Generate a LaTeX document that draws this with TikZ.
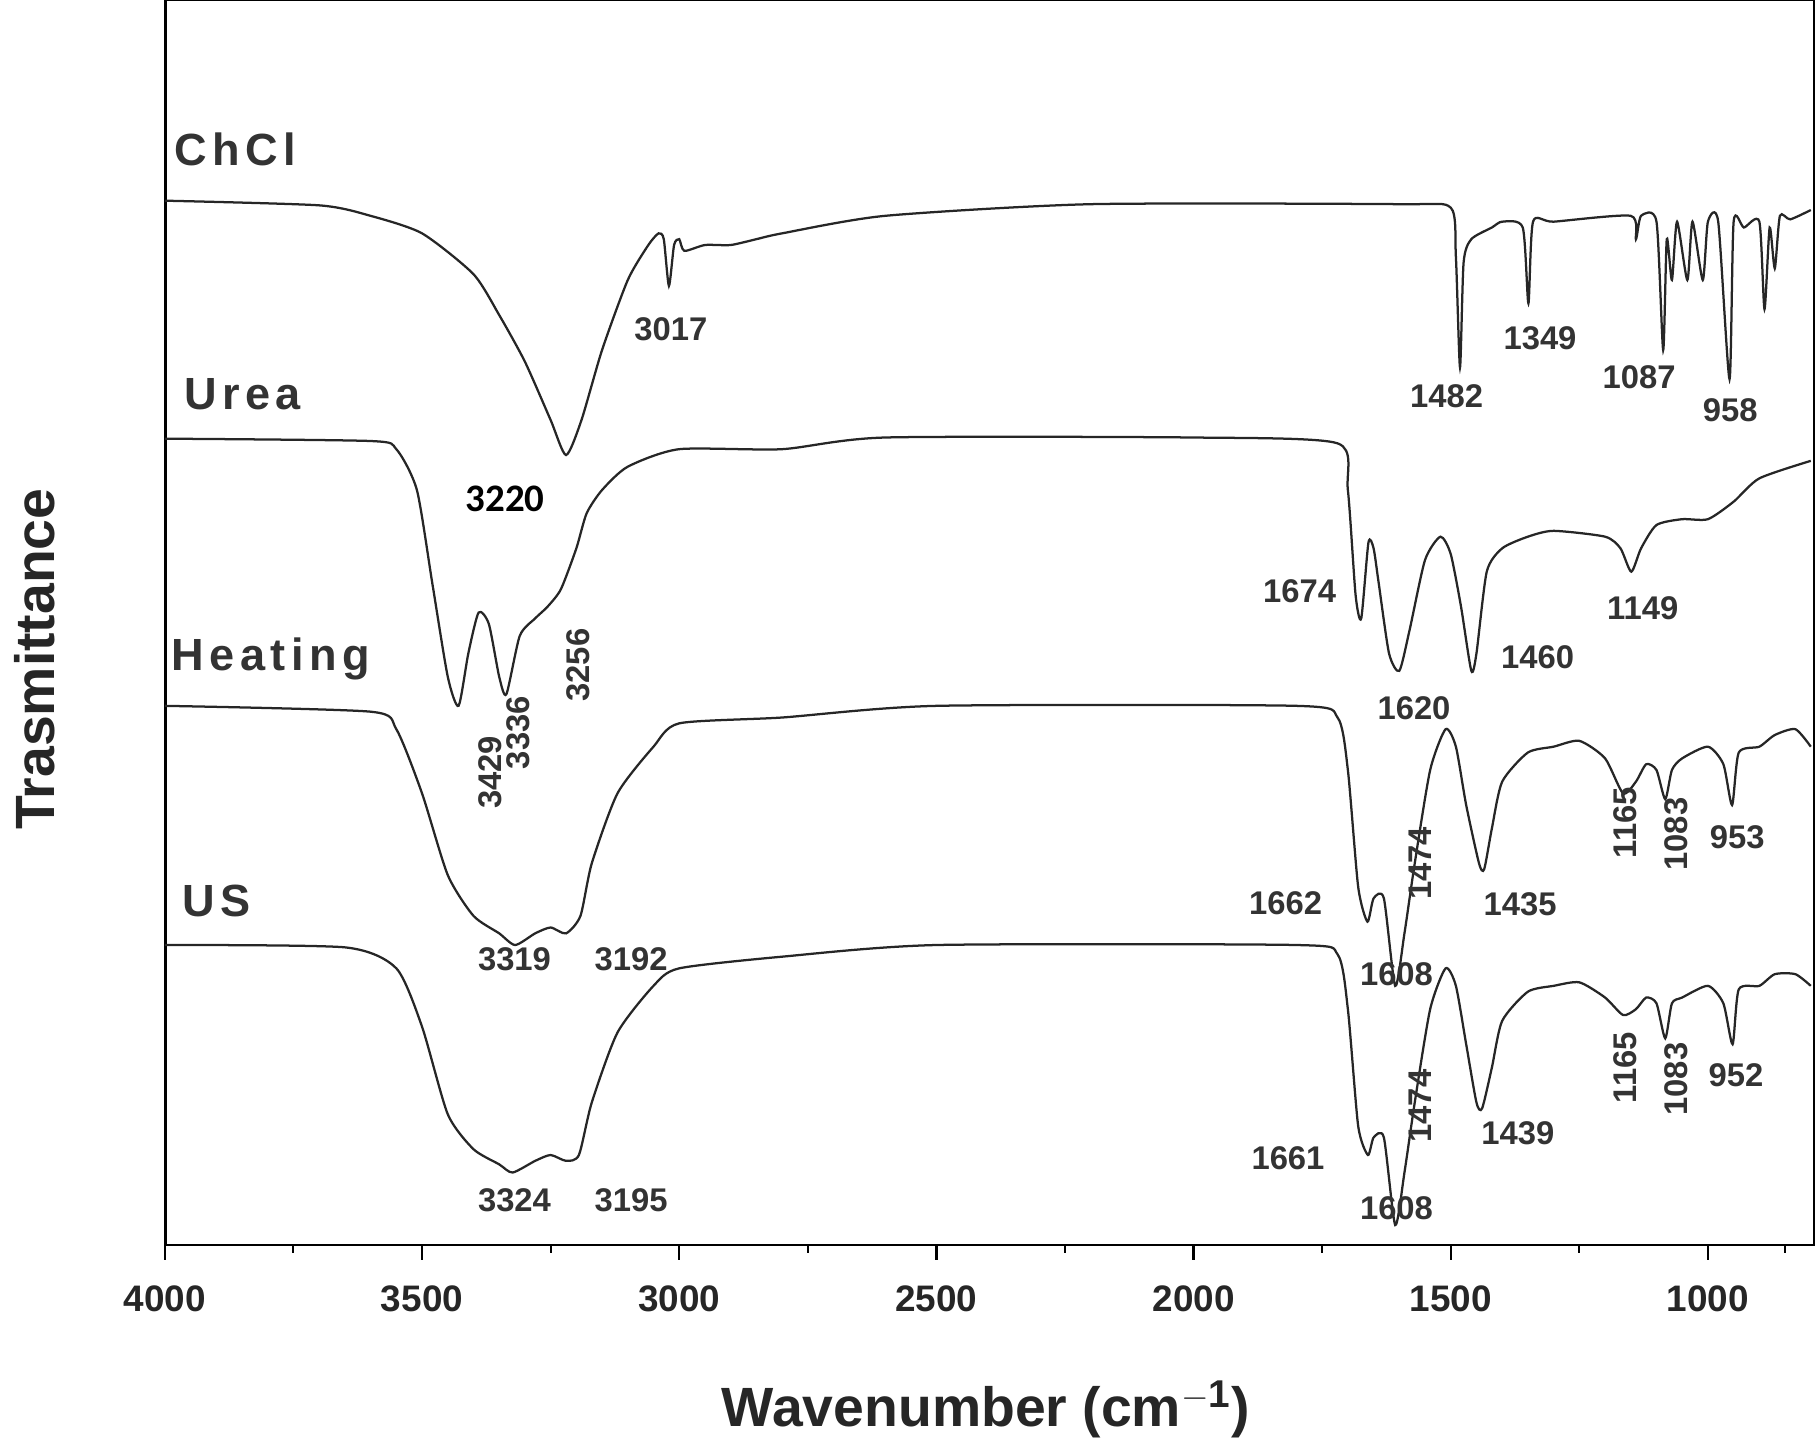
\documentclass[tikz,border=0pt]{standalone}
\usepackage{fontspec}
\setmainfont{Liberation Sans}
\newfontfamily\calib{Carlito}
\newfontfamily\spaced[LetterSpace=12]{Liberation Sans}
\begin{document}
\begin{tikzpicture}[x=0.02cm,y=-0.02cm,
 lab/.style={font=\bfseries\fontsize{16}{16}\selectfont,text=black!80},
 labr/.style={lab,rotate=90},
 nm/.style={font=\spaced\bfseries\fontsize{22}{22}\selectfont,text=black!80},
 tk/.style={font=\bfseries\fontsize{18}{18}\selectfont,text=black!85},
 spec/.style={line width=1.1pt,black!85,smooth,tension=0.4}]
\useasboundingbox (0,0) rectangle (1560,1232);
\draw[line width=1.2pt] (142,0) coordinate(tl) rectangle (1555,1067) coordinate(br);
\node[font=\bfseries\fontsize{27}{27}\selectfont,text=black!85] (xl) at (845,1208) {Wavenumber (cm$^{\mathbf{-1}}$)};
\node[font=\bfseries\fontsize{27}{27}\selectfont,text=black!85,rotate=90] (yl) at (30,565) {Trasmittance};
\begin{scope}[shift={(1904.8,0)},x=-0.008814cm]
\foreach \w in {4000,3500,...,1000}{\draw[line width=1.2pt] (\w,1067)--(\w,1080);
 \node[tk] at (\w,1113) {\w};}
\foreach \w in {3750,3250,...,1250,850}{\draw[line width=1pt] (\w,1067)--(\w,1074);}
% ChCl
\draw[spec] plot coordinates {
(4000,172)(3700,176)(3600,185)(3500,200)(3400,235)(3350,270)(3300,310)(3250,360)(3220,390)(3190,360)(3150,300)(3100,240)(3060,210)(3040,200)(3030,205)(3020,245)(3010,210)(3000,205)(2990,215)(2950,210)(2900,210)(2850,205)(2800,200)(2600,185)(2200,175)(1600,175)(1500,178)(1490,220)(1482,315)(1475,225)(1460,205)(1420,195)(1400,190)(1360,195)(1349,260)(1340,190)(1300,190)(1150,185)(1140,205)(1130,185)(1100,190)(1087,300)(1080,205)(1070,240)(1060,190)(1040,240)(1030,190)(1010,240)(1000,190)(980,190)(958,325)(950,190)(930,195)(900,190)(890,265)(880,195)(870,230)(860,185)(840,188)(800,180)};
% Urea
\draw[spec] plot coordinates {
(4000,376)(3600,378)(3550,385)(3510,420)(3480,500)(3450,580)(3429,605)(3410,560)(3390,525)(3370,535)(3350,580)(3336,595)(3310,545)(3280,530)(3256,520)(3230,505)(3200,470)(3180,440)(3150,420)(3100,400)(3000,385)(2800,385)(2600,375)(2000,375)(1720,380)(1700,420)(1685,510)(1674,530)(1660,465)(1650,470)(1640,500)(1620,560)(1600,575)(1580,540)(1550,480)(1520,460)(1500,475)(1480,520)(1460,575)(1450,560)(1430,490)(1400,470)(1350,460)(1300,455)(1200,460)(1170,470)(1149,490)(1130,470)(1100,450)(1050,445)(1000,445)(950,430)(900,410)(800,395)};
% Heating
\draw[spec] plot coordinates {
(4000,605)(3600,610)(3550,625)(3500,680)(3450,750)(3400,785)(3350,800)(3319,810)(3280,800)(3250,795)(3220,800)(3192,785)(3170,740)(3120,680)(3050,640)(3000,620)(2800,615)(2500,605)(1800,605)(1720,615)(1700,660)(1680,760)(1662,790)(1650,770)(1630,770)(1608,845)(1590,800)(1570,740)(1540,660)(1510,625)(1490,640)(1470,690)(1445,740)(1435,745)(1420,710)(1400,670)(1350,645)(1300,640)(1250,635)(1200,650)(1165,680)(1140,670)(1120,655)(1100,660)(1083,685)(1070,660)(1050,650)(1000,640)(970,655)(953,690)(940,645)(900,640)(870,630)(830,625)(800,640)};
% US
\draw[spec] plot coordinates {
(4000,810)(3650,812)(3550,830)(3500,880)(3450,955)(3400,985)(3350,998)(3324,1005)(3280,995)(3250,990)(3220,995)(3195,990)(3170,945)(3120,885)(3050,845)(3000,830)(2800,820)(2500,810)(1800,810)(1720,818)(1700,865)(1680,965)(1661,990)(1650,975)(1630,975)(1608,1050)(1590,1005)(1570,945)(1540,865)(1510,830)(1490,845)(1470,895)(1450,945)(1439,950)(1420,915)(1400,875)(1350,850)(1300,845)(1250,842)(1200,855)(1165,870)(1140,865)(1120,855)(1100,860)(1083,890)(1070,860)(1050,855)(1000,845)(970,860)(952,895)(940,848)(900,845)(870,835)(830,835)(800,845)};
\end{scope}
\node[nm] (n1) at (202,128) {ChCl};
\node[nm] (n2) at (208,338) {Urea};
\node[nm] (n3) at (232,565) {Heating};
\node[nm] (n4) at (186,772) {US};
\node[lab] at (575,282) {3017};
\node[lab] at (1240,340) {1482};
\node[lab] at (1320,290) {1349};
\node[lab] at (1405,323) {1087};
\node[lab] at (1483,352) {958};
\node[font=\calib\bfseries\fontsize{19}{19}\selectfont] at (433,428) {3220};
\node[lab] at (1114,507) {1674};
\node[lab] at (1212,607) {1620};
\node[lab] at (1318,563) {1460};
\node[lab] at (1408,521) {1149};
\node[labr] at (420,662) {3429};
\node[labr] at (444,628) {3336};
\node[labr] at (496,570) {3256};
\node[lab] at (1102,774) {1662};
\node[lab] at (1197,835) {1608};
\node[labr] at (1217,740) {1474};
\node[lab] at (1303,775) {1435};
\node[labr] at (1393,705) {1165};
\node[labr] at (1437,715) {1083};
\node[lab] at (1489,718) {953};
\node[lab] at (441,822) {3319};
\node[lab] at (541,822) {3192};
\node[lab] at (441,1029) {3324};
\node[lab] at (541,1029) {3195};
\node[lab] at (1104,993) {1661};
\node[lab] at (1197,1036) {1608};
\node[labr] at (1217,948) {1474};
\node[lab] at (1301,971) {1439};
\node[labr] at (1393,915) {1165};
\node[labr] at (1437,925) {1083};
\node[lab] at (1488,922) {952};
\end{tikzpicture}
\end{document}
